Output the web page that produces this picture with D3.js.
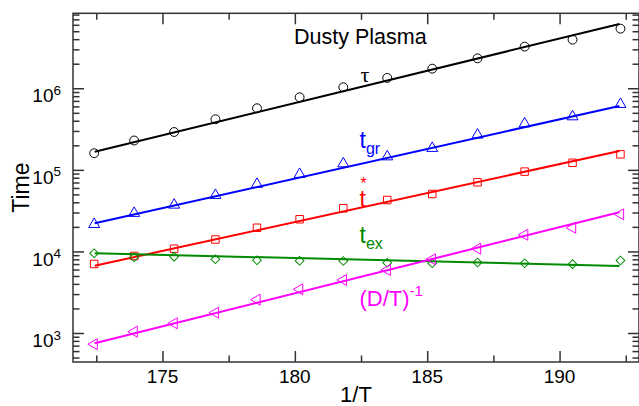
<!DOCTYPE html>
<html>
<head>
<meta charset="utf-8">
<script src="https://cdn.jsdelivr.net/npm/d3@7"></script>
<style>
body { margin: 0; background: #fff; }
svg { display: block; font-family: "Liberation Sans", Arial, Helvetica, sans-serif; }
</style>
</head>
<body>
<script>
// data
var invT  = [172.42, 173.93, 175.44, 177.00, 178.57, 180.18, 181.83, 183.49, 185.19, 186.90, 188.68, 190.49, 192.30];
var tau   = [1.60e5, 2.29e5, 2.91e5, 4.17e5, 5.69e5, 7.76e5, 1.03e6, 1.34e6, 1.74e6, 2.33e6, 3.24e6, 3.94e6, 5.38e6];
var tgr   = [2.15e4, 2.94e4, 3.71e4, 4.88e4, 6.67e4, 8.83e4, 1.19e5, 1.45e5, 1.84e5, 2.68e5, 3.68e5, 4.49e5, 6.37e5];
var tstar = [7.02e3, 8.79e3, 1.08e4, 1.40e4, 1.95e4, 2.48e4, 3.38e4, 4.27e4, 5.06e4, 7.04e4, 9.51e4, 1.22e5, 1.55e5];
var tex   = [9.49e3, 8.47e3, 8.62e3, 8.01e3, 7.79e3, 7.68e3, 7.63e3, 7.26e3, 7.16e3, 7.31e3, 7.16e3, 6.98e3, 7.74e3];
var dinv  = [728, 1037, 1315, 1774, 2560, 3434, 4467, 5916, 8014, 1.08e4, 1.60e4, 1.95e4, 2.85e4];

// fitted lines (end points)
var fitX     = [172.44, 192.26];
var tauFit   = [1.67e5, 6.14e6];
var tgrFit   = [2.21e4, 6.07e5];
var tstarFit = [6.68e3, 1.70e5];
var texFit   = [9.49e3, 6.64e3];
var dinvFit  = [748, 3.02e4];

var xMajor = [175, 180, 185, 190];
var xMinor = [172.5, 177.5, 182.5, 187.5, 192.5];
var yMajor = [1e3, 1e4, 1e5, 1e6];

width = 639;
height = 406;
margin = { top: 13.3, right: 0, bottom: 44, left: 73 }

var series = [
    { key: "tau",   vals: tau,   fit: tauFit,   color: "#000000", sym: d3.symbolCircle,   size: 62, rot: 0 },
    { key: "tgr",   vals: tgr,   fit: tgrFit,   color: "#0000ff", sym: d3.symbolTriangle, size: 52, rot: 0 },
    { key: "tstar", vals: tstar, fit: tstarFit, color: "#ff0000", sym: d3.symbolSquare,   size: 56, rot: 0 },
    { key: "tex",   vals: tex,   fit: texFit,   color: "#008b00", sym: d3.symbolSquare,   size: 38, rot: 45 },
    { key: "dinv",  vals: dinv,  fit: dinvFit,  color: "#ff00ff", sym: d3.symbolTriangle, size: 52, rot: -90 }
];

var x = d3.scaleLinear()
    .domain([171.62, 193])
    .range([margin.left, width - margin.right]);

var y = d3.scaleLog()
    .domain([441, 8.3e6])
    .range([height - margin.bottom, margin.top]);

var yMinor = y.ticks().filter(d => yMajor.indexOf(d) < 0);

const svg = d3.select('body')
    .append("svg")
    .attr("width", width)
    .attr("height", height);

var axisCol = "#333";

// ticks, all pointing inward
function tickAxis(axis, vals, len, tr) {
    var g = svg.append("g")
        .attr("transform", tr)
        .call(axis.tickValues(vals).tickSize(len).tickFormat(""));
    g.select(".domain").remove();
    g.selectAll(".tick line").attr("stroke", axisCol).attr("stroke-width", 1.5);
    return g;
}
var bottomY = height - margin.bottom, rightX = width - margin.right;
tickAxis(d3.axisBottom(x), xMajor, -11, `translate(0,${bottomY})`);
tickAxis(d3.axisBottom(x), xMinor, -6.5, `translate(0,${bottomY})`);
tickAxis(d3.axisTop(x), xMajor, -11, `translate(0,${margin.top})`);
tickAxis(d3.axisTop(x), xMinor, -6.5, `translate(0,${margin.top})`);
tickAxis(d3.axisLeft(y), yMajor, -11, `translate(${margin.left},0)`);
tickAxis(d3.axisLeft(y), yMinor, -6.5, `translate(${margin.left},0)`);
tickAxis(d3.axisRight(y), yMajor, -11, `translate(${rightX},0)`);
tickAxis(d3.axisRight(y), yMinor, -6.5, `translate(${rightX},0)`);

svg.append("rect")
    .attr("x", margin.left)
    .attr("y", margin.top)
    .attr("width", rightX - margin.left)
    .attr("height", bottomY - margin.top)
    .attr("fill", "none")
    .attr("stroke", axisCol)
    .attr("stroke-width", 1.5);

// tick labels
svg.append("g")
    .selectAll("text")
    .data(xMajor)
    .join("text")
    .attr("x", d => x(d))
    .attr("y", bottomY + 21.3)
    .attr("text-anchor", "middle")
    .style("font-size", "19px")
    .text(d => d);

var ylab = svg.append("g")
    .selectAll("text")
    .data(yMajor)
    .join("text")
    .attr("x", margin.left - 12)
    .attr("y", d => y(d) + 14.2)
    .attr("text-anchor", "end")
    .style("font-size", "19px");
ylab.append("tspan").text("10");
ylab.append("tspan")
    .attr("dy", -7.6)
    .style("font-size", "13.5px")
    .text(d => Math.round(Math.log10(d)));

// axis titles
svg.append("text")
    .attr("x", (margin.left + rightX) / 2)
    .attr("y", 401.5)
    .attr("text-anchor", "middle")
    .style("font-size", "22px")
    .text("1/T");

svg.append("text")
    .attr("transform", `translate(28.5,${(margin.top + bottomY) / 2}) rotate(-90)`)
    .attr("text-anchor", "middle")
    .style("font-size", "23px")
    .text("Time");

// fits and markers
var line = d3.line()
    .x(d => x(d[0]))
    .y(d => y(d[1]));

var sg = svg.append("g")
    .selectAll("g")
    .data(series)
    .join("g");

sg.append("path")
    .attr("d", s => line(fitX.map((v, i) => [v, s.fit[i]])))
    .attr("fill", "none")
    .attr("stroke", s => s.color)
    .attr("stroke-width", 2);

sg.each(function(s) {
    d3.select(this)
        .selectAll(".pt")
        .data(invT.map((v, i) => [v, s.vals[i]]))
        .join("path")
        .attr("class", "pt")
        .attr("transform", d => `translate(${x(d[0])},${y(d[1])}) rotate(${s.rot})`)
        .attr("d", d3.symbol(s.sym, s.size))
        .attr("fill", "none")
        .attr("stroke", s.color)
        .attr("stroke-width", 1);
});

// annotations
svg.append("text")
    .attr("x", 294)
    .attr("y", 43.7)
    .style("font-size", "21.5px")
    .text("Dusty Plasma");

svg.append("text")
    .attr("x", 360.5)
    .attr("y", 81.7)
    .attr("fill", "#000")
    .style("font-family", "'Liberation Serif', 'DejaVu Serif', serif")
    .style("font-size", "22px")
    .text("τ");

var lab1 = svg.append("text").attr("x", 359.5).attr("y", 148.3).attr("fill", "#0000ff").style("font-size", "23px");
lab1.append("tspan").text("t");
lab1.append("tspan").attr("dy", 6).style("font-size", "16px").text("gr");

// star sits right above the t
var lab2 = svg.append("text").attr("x", 359.5).attr("y", 206.7).attr("fill", "#ff0000").style("font-size", "23px");
lab2.append("tspan").text("t");
lab2.append("tspan").attr("x", 360.5).attr("dy", -17.7).style("font-size", "16px").text("*");

var lab3 = svg.append("text").attr("x", 359.5).attr("y", 243.3).attr("fill", "#008b00").style("font-size", "23px");
lab3.append("tspan").text("t");
lab3.append("tspan").attr("dy", 6).style("font-size", "16px").text("ex");

var lab4 = svg.append("text").attr("x", 359.5).attr("y", 306).attr("fill", "#ff00ff").style("font-size", "22px");
lab4.append("tspan").text("(D/T)");
lab4.append("tspan").attr("dy", -10).style("font-size", "15px").text("-1");
</script>
</body>
</html>
